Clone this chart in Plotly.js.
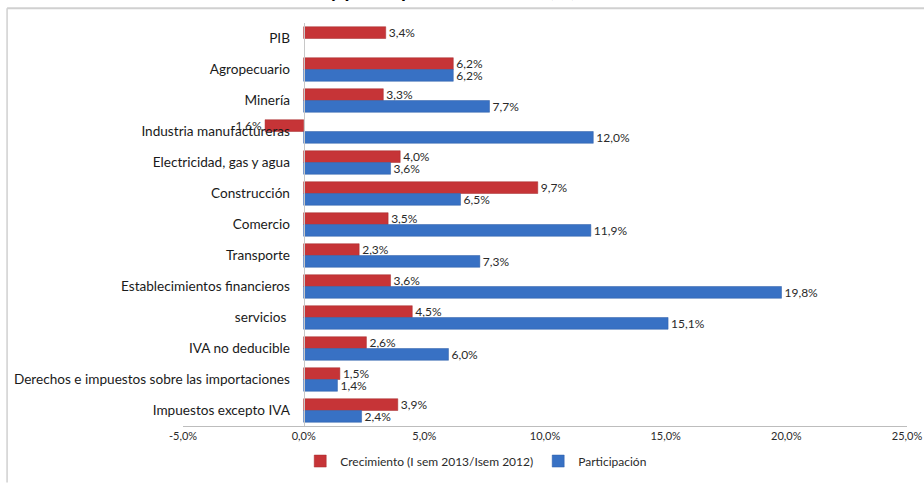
<!DOCTYPE html>
<html>
<head>
<meta charset="utf-8">
<script src="https://cdn.plot.ly/plotly-3.0.1.min.js"></script>
<style>html,body{margin:0;padding:0;background:#fff;}#chart{width:924px;height:488px;}</style>
</head>
<body>
<div id="chart"></div>
<script>
var categories = ["PIB","Agropecuario","Minería","Industria manufactureras","Electricidad, gas y agua","Construcción","Comercio","Transporte","Establecimientos financieros","servicios ","IVA no deducible","Derechos e impuestos sobre las importaciones","Impuestos excepto IVA"];
var crecimiento = [3.4, 6.2, 3.3, -1.6, 4.0, 9.7, 3.5, 2.3, 3.6, 4.5, 2.6, 1.5, 3.9];
var participacion = [null, 6.2, 7.7, 12.0, 3.6, 6.5, 11.9, 7.3, 19.8, 15.1, 6.0, 1.4, 2.4];
var tickValues = [-5, 0, 5, 10, 15, 20, 25];
var seriesNames = ["Crecimiento (I sem 2013/Isem 2012)", "Participación"];
var titleText = "Crecimiento y participación en el PIB (%), I semestre 2013";

function fmt(v){ return v === null ? "" : v.toFixed(1).replace(".", ",") + "%"; }

var font = "Lato, 'Open Sans', sans-serif";
var traces = [
  {type:"bar", orientation:"h", name:seriesNames[0], y:categories, x:crecimiento,
   text:crecimiento.map(fmt), textposition:"outside", cliponaxis:false, constraintext:"none",
   textfont:{family:font, size:12, color:"#2a2a2a"},
   marker:{color:"#C63437", line:{color:"#A52A2D", width:0.5}}},
  {type:"bar", orientation:"h", name:seriesNames[1], y:categories, x:participacion,
   text:participacion.map(fmt), textposition:"outside", cliponaxis:false, constraintext:"none",
   textfont:{family:font, size:12, color:"#2a2a2a"},
   marker:{color:"#3871C4", line:{color:"#2C5DA6", width:0.5}}}
];

var layout = {
  width:924, height:488,
  margin:{l:183, r:17, t:23, b:55},
  paper_bgcolor:"#fff", plot_bgcolor:"#fff",
  barmode:"group", bargap:0.24, bargroupgap:0,
  showlegend:true,
  legend:{orientation:"h", x:0.405, xanchor:"center", y:-0.087, yanchor:"middle",
          font:{family:font, size:12, color:"#2a2a2a"}, traceorder:"normal", itemwidth:30},
  font:{family:font, color:"#2a2a2a"},
  xaxis:{range:[-5,25], tickvals:tickValues, ticktext:tickValues.map(function(v){return v.toFixed(1).replace(".", ",")+"%";}),
         showgrid:false, zeroline:false, showline:true, linecolor:"#BDBDBD", linewidth:1,
         ticks:"", tickfont:{family:font, size:11, color:"#2a2a2a"}, fixedrange:true},
  yaxis:{type:"category", autorange:"reversed", anchor:"free", position:5/30,
         showgrid:false, zeroline:false, showline:true, linecolor:"#C8C8C8", linewidth:1,
         ticks:"", ticklabelstandoff:11, tickfont:{family:font, size:13.6, color:"#1a1a1a"}, fixedrange:true},
  annotations:[
    {text:"<b>"+titleText+"</b>", xref:"paper", yref:"paper", x:0.40, y:1, xanchor:"center", yanchor:"bottom",
     yshift:20, showarrow:false, font:{family:font, size:20, color:"#000"}}
  ],
  shapes:[
    {type:"line", xref:"paper", yref:"paper", x0:-0.243, x1:1.03, y0:1.0366, y1:1.0366, line:{color:"#D0D0D0", width:2}},
    {type:"line", xref:"paper", yref:"paper", x0:-0.243, x1:-0.243, y0:1.0366, y1:-0.14, line:{color:"#D0D0D0", width:1.5}}
  ]
};

Plotly.newPlot("chart", traces, layout, {displayModeBar:false, staticPlot:true});
</script>
</body>
</html>
